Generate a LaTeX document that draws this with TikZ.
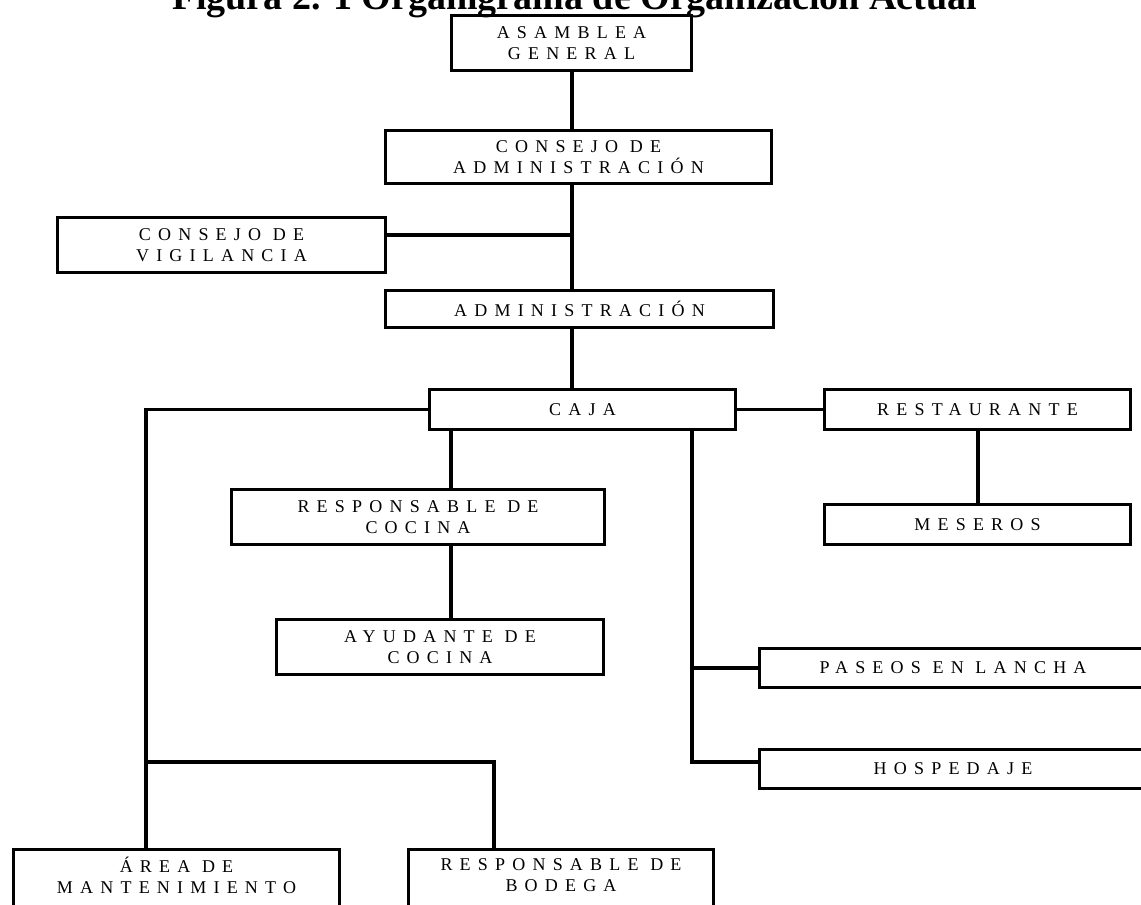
\documentclass[tikz,border=0pt]{standalone}
\usepackage{fontspec}
\setmainfont{Liberation Serif}
\newfontfamily\boxfont[LetterSpace=40]{Liberation Serif}
\begin{document}
\begin{tikzpicture}[x=1pt,y=-1pt,
  orgbox/.style={draw, line width=3.4pt, inner sep=0pt, align=center,
    font=\boxfont\fontsize{18}{21}\selectfont},
  conn/.style={line width=3.4pt}]
\useasboundingbox (0,0) rectangle (1141,905);
\fill[white] (0,0) rectangle (1141,905);
\node[font=\bfseries\fontsize{38}{40}\selectfont, anchor=base] (title) at (575,9) {Figura 2. 1 Organigrama de Organización Actual};
\node[orgbox, minimum width=240pt, minimum height=55pt] (asam) at (571.5,43) {ASAMBLEA\\GENERAL};
\node[orgbox, minimum width=386pt, minimum height=53pt] (cadmin) at (578.5,157) {CONSEJO DE\\ADMINISTRACIÓN};
\node[orgbox, minimum width=328pt, minimum height=55pt] (vigil) at (221.5,245) {CONSEJO DE\\VIGILANCIA};
\node[orgbox, minimum width=388pt, minimum height=37pt] (admin) at (579.5,309) {ADMINISTRACIÓN};
\node[orgbox, minimum width=306pt, minimum height=40pt] (caja) at (582.5,409.5) {CAJA};
\node[orgbox, minimum width=306pt, minimum height=40pt] (rest) at (977.5,409.5) {RESTAURANTE};
\node[orgbox, minimum width=306pt, minimum height=40pt] (meseros) at (977.5,524.5) {MESEROS};
\node[orgbox, minimum width=373pt, minimum height=55pt] (rcocina) at (418,517) {RESPONSABLE DE\\COCINA};
\node[orgbox, minimum width=327pt, minimum height=55pt] (ayud) at (440,647) {AYUDANTE DE\\COCINA};
\node[orgbox, minimum width=387pt, minimum height=39pt] (paseos) at (953,668) {PASEOS EN LANCHA};
\node[orgbox, minimum width=387pt, minimum height=39pt] (hosp) at (953,769) {HOSPEDAJE};
\node[orgbox, minimum width=326pt, minimum height=61pt, text depth=9pt] (area) at (176.5,880) {ÁREA DE\\MANTENIMIENTO};
\node[orgbox, minimum width=305pt, minimum height=61pt, text depth=9pt] (bodega) at (561,880) {RESPONSABLE DE\\BODEGA};
% junction coordinates
\coordinate (ax) at (572,0);
\coordinate (vj) at (572,235);
\coordinate (cx1) at (451,0);
\coordinate (lt) at (146,0);
\coordinate (bj) at (146,762);
\coordinate (bb) at (494,762);
\coordinate (rb) at (692,762);
\coordinate (rx) at (978,0);
% connectors
\draw[conn] (asam.south -| ax) -- (cadmin.north -| ax);
\draw[conn] (cadmin.south -| ax) -- (admin.north -| ax);
\draw[conn] (vigil.east |- vj) -- (vj);
\draw[conn] (admin.south -| ax) -- (caja.north -| ax);
\draw[conn] (caja.west) -- (caja.west -| lt) -- (lt |- area.north);
\draw[conn] (bj) -- (bb) -- (bb |- bodega.north);
\draw[conn] (caja.east) -- (rest.west);
\draw[conn] (rest.south -| rx) -- (meseros.north -| rx);
\draw[conn] (caja.south -| cx1) -- (rcocina.north -| cx1);
\draw[conn] (rcocina.south -| cx1) -- (ayud.north -| cx1);
\draw[conn] (caja.south -| rb) -- (rb) -- (rb -| hosp.west);
\draw[conn] (paseos.west -| rb) -- (paseos.west);
\end{tikzpicture}
\end{document}
